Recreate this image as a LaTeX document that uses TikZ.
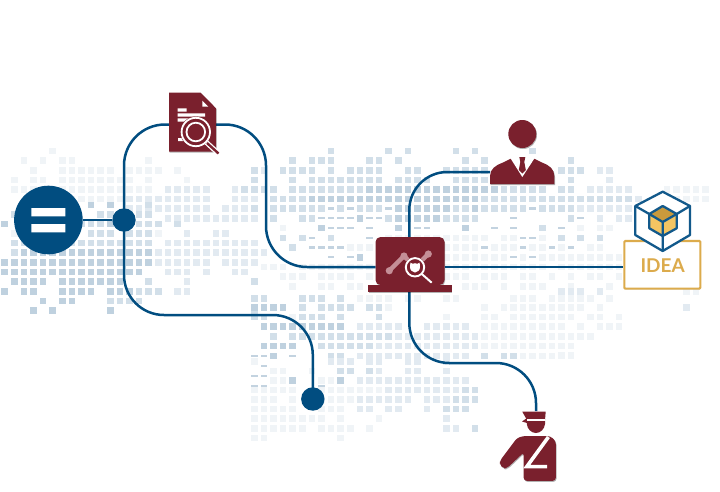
\documentclass[tikz,border=0pt]{standalone}
\usepackage{fontspec}
\setmainfont{Lato}
\usetikzlibrary{backgrounds,shadows}
\definecolor{wirec}{HTML}{014D80}
\definecolor{wine}{HTML}{7A202D}
\definecolor{palewine}{HTML}{C48F97}
\definecolor{gold}{HTML}{DCAB4C}
\definecolor{goldlight}{HTML}{F4C562}
\definecolor{golddark}{HTML}{C99A3C}
\definecolor{cubeblue}{HTML}{12598B}
\definecolor{cell1}{HTML}{F0F4F7}
\definecolor{cell2}{HTML}{E2EAF1}
\definecolor{cell3}{HTML}{D2DFE9}
\definecolor{cell4}{HTML}{BFD1DF}
\definecolor{cella}{HTML}{C3D3E0}
\newcount\cellx
\newcommand{\gridcell}[1]{%
  \if#1.\else
    \pgfmathsetmacro{\cellcx}{4.7+9.6*\the\cellx}%
    \if#1a%
      \fill[cella] (\cellcx-3.3,\gridy-1.2) rectangle (\cellcx+3.3,\gridy+1.2);%
    \else
      \fill[cell#1] (\cellcx-3.3,\gridy-3.3) rectangle (\cellcx+3.3,\gridy+3.3);%
    \fi
  \fi}
\def\gridscan#1{\ifx#1\relax\else\gridcell{#1}\advance\cellx by 1 \expandafter\gridscan\fi}
\newcommand{\gridrow}[3]{\def\gridy{#1}\cellx=#2 \gridscan#3\relax}
\tikzset{
  wire/.style={draw=wirec,line width=2.5pt},
  iconshadow/.style={drop shadow={shadow xshift=.7pt,shadow yshift=-1pt,opacity=.3,fill=black}},
  hole/.style={minimum width=#1,inner sep=0pt,outer sep=0pt},
  cubeline/.style={draw=cubeblue,line width=2.3pt,line join=round},
}
\begin{document}
\begin{tikzpicture}[x=1pt,y=-1pt]
\useasboundingbox (0,0) rectangle (720,491);
% --- named anchors and icons on the main layer ---
\node[circle,fill=wirec,minimum size=68.6pt,inner sep=0pt] (eq) at (48.4,220) {};
\fill[white] (31.3,208) rectangle (65.3,216.3) (31.3,224) rectangle (65.3,232.3);
\node[circle,fill=wirec,minimum size=23.4pt,inner sep=0pt] (hub) at (124,220) {};
\node[circle,fill=wirec,minimum size=23.4pt,inner sep=0pt] (sink) at (312.8,399) {};
\coordinate (lapL) at (375.5,267);
\coordinate (lapR) at (444.5,267);
\coordinate (lapT) at (409.3,240);
\coordinate (lapB) at (409.3,290);
\coordinate (wa) at (266,124.5);
\coordinate (wb) at (266,267);
\coordinate (wc) at (124,315);
\coordinate (wd) at (312.8,315);
\coordinate (we) at (409.3,172);
\coordinate (wf) at (409.3,363);
\coordinate (wg) at (536,363);
% document
\node[hole=47pt,minimum height=54pt] (doc) at (192.5,124.5) {};
\fill[wine,iconshadow] (169,92.5) -- (200.5,92.5) -- (216,108.3) -- (216,151.7) -- (169,151.7) -- cycle;
\fill[white] (202.3,100.7) -- (202.3,106.7) -- (208.3,106.7) -- cycle;
\fill[white] (177.7,108.3) rectangle (186.7,111.6) (177.7,113.4) rectangle (205,116.6) (177.7,118.4) rectangle (197,121.6) (178,138) rectangle (183,141);
\fill[wine] (195.8,132) circle (15.5);
\draw[white,line width=1.8pt] (195.8,132) circle (14.2) (195.8,132) circle (9.3);
\draw[white,line width=5pt] (206.5,142.5) -- (219.5,154.5);
\draw[wine,line width=2.4pt] (207,143) -- (218.5,153.5);
% laptop
\node[fill=wine,rounded corners=5pt,minimum width=69pt,minimum height=48pt,inner sep=0pt,iconshadow] (lap) at (410,261) {};
\fill[wine,iconshadow] (368.3,285) rectangle (451.7,292.3);
\draw[palewine,line width=4.4pt,line cap=round] (389.3,270.7) -- (404,256) -- (415,267) -- (428.3,254);
\fill[palewine] (404,256) circle (3.6) (428.3,254) circle (3.6) (389.3,270.7) circle (3.6);
\fill[wine] (415,267.3) circle (10.5);
\draw[white,line width=1.9pt] (415,267.3) circle (9.2);
\fill[white] (410.4,262.6) -- (412.6,263.8) -- (415,263.2) -- (417.4,263.8) -- (419.6,262.6) -- (420,267) .. controls (420,270.5) and (417.5,272) .. (415,272.5) .. controls (412.5,272) and (410,270.5) .. (410,267) -- cycle;
\draw[white,line width=2pt] (421.8,274) -- (431.7,282.7);
% person
\node[circle,fill=wine,minimum size=28pt,inner sep=0pt,iconshadow] (head) at (522.3,134) {};
\node[hole=64pt,minimum height=26pt] (person) at (522.2,172) {};
\fill[wine,iconshadow] (490,184) -- (490,176) .. controls (490,169) and (496,165) .. (503,162.5) -- (510,159) .. controls (518,156.5) and (527,156.5) .. (535,159) -- (542,162.5) .. controls (549,165) and (554.3,169) .. (554.3,176) -- (554.3,184) -- cycle;
\fill[white] (510,157.5) .. controls (518,156) and (527,156) .. (535,157.5) -- (522.3,177) -- cycle;
\fill[wine] (519.3,157) -- (525.3,157) -- (524.3,162) -- (525.8,170) -- (522.3,173.5) -- (518.8,170) -- (520.3,162) -- cycle;
% idea box
\node[draw=gold,fill=white,line width=2.1pt,rounded corners=1pt,minimum width=76pt,minimum height=47.7pt,inner sep=0pt,drop shadow={shadow xshift=.6pt,shadow yshift=-.8pt,opacity=.2,fill=black}] (idea) at (662.3,264.8) {};
\node[text=gold,font=\bfseries\fontsize{19}{20}\selectfont,inner sep=0pt,anchor=center] (idealabel) at (662.7,265.6) {IDEA};
% cube
\fill[white,cubeline] (662.7,191.7) -- (690,206) -- (690,235) -- (662.7,251) -- (635.3,235) -- (635.3,206) -- cycle;
\draw[cubeline] (635.3,206) -- (649.3,214) (690,206) -- (676.7,214) (662.7,236) -- (662.7,251);
\fill[goldlight] (662.7,222) -- (676.7,214) -- (676.7,228.3) -- (662.7,236) -- (649.3,228.3) -- (649.3,214) -- cycle;
\fill[golddark] (662.7,206) -- (676.7,214) -- (662.7,222) -- (649.3,214) -- cycle;
\draw[cubeline] (662.7,206) -- (676.7,214) -- (676.7,228.3) -- (662.7,236) -- (649.3,228.3) -- (649.3,214) -- cycle;
\draw[cubeline] (649.3,214) -- (662.7,222) -- (676.7,214) (662.7,222) -- (662.7,236);
% officer
\node[hole=36pt,minimum height=70pt] (officer) at (536,446) {};
\fill[wine] (522.3,411.7) -- (545.7,411.7) -- (545,420) -- (527,420) -- cycle;
\fill[wine] (522,421.5) -- (527,418) -- (527,423) -- cycle;
\fill[wine] (526.8,420.8) -- (545,420.8) -- (545,424) .. controls (544.5,429) and (540.5,433) .. (535.9,433) .. controls (531.3,433) and (527.3,429) .. (526.8,424) -- cycle;
\fill[white] (526.8,419) rectangle (545.2,420.6);
\fill[wine,iconshadow,rounded corners=3pt] (523.5,436) -- (550,436) -- (555.8,441) -- (555.8,480.8) -- (523.7,480.8) -- (523.7,452.5) -- (507,468.2) -- (503.2,468.3) -- (499.8,464.5) -- (499.8,461) -- (517,438) -- cycle;
\draw[white,line width=3.6pt,miter limit=10] (548.4,437) -- (526.8,466.6) -- (547.2,466.6);
% --- map and connectors behind ---
\begin{pgfonlayer}{background}
\fill[white] (0,0) rectangle (720,491);
% top band
\gridrow{151}{0}{.....1.... .......... .......... ....3..... 3.3....3.3 .....3....}
\gridrow{160.6}{0}{..1.1.11.. .....1.... .......... 3.333...33 .3......3. 3........3}
\gridrow{170.2}{0}{...1..1111 11.1111.1. ......32.3 333.3.3333 ..33..3333 3.......33 3.22......}
\gridrow{179.8}{0}{.1.11.1111 1111.1...1 ......3... 3.33333333 .3333..333 333333...3 ...2......}
\gridrow{189.4}{0}{.1111.1111 111111.222 22..23333. 3333333344 4444444444 4433333.33 .22222...1 1111}
\gridrow{199}{0}{......1111 1112222222 22..222.33 3344444444 4444444444 3333333333 3333332..1 1111}
\gridrow{208.6}{0}{.......... ...2222222 22.2223.33 3333a3a333 a444444334 33333a3333 2222222...}
\gridrow{218.2}{0}{.......... .......222 2222222.3. .33aaaa4aa 3444443333 ...a.....3 a.2.2222..}
\gridrow{227.8}{20}{.........1 ...4aaa.a. .4.aa...4. .a.a..3.a. 1.11......}
\gridrow{237.8}{29}{3 .3a.3...a. 1111111111 1.11aa1.3. 3.3.......}
\gridrow{247.6}{30}{3.aaaa1111 1111111111 a111a11a1a .11.......}
\gridrow{257.2}{30}{....a.a4.1 1111111111 111a1a1111 11111.....}
\gridrow{267}{27}{111 .111111111 1111.11111 1111111.11 11111}
\gridrow{276.6}{29}{1 11.1111.11 .111.1111. 111.11.1.1 .11.1}
\gridrow{286.2}{30}{1..11.11.. 1.11.1..11 1.1.111..1 ...1}
% left block
\gridrow{205}{0}{.........4 .4...3}
\gridrow{214.5}{0}{.3........ 33..33}
\gridrow{224}{0}{4.......33 34.3333.3.}
\gridrow{233.5}{0}{.1.......3 33.3331..2 ..22}
\gridrow{243}{0}{.333333333 333333.222 2222222}
\gridrow{252.7}{0}{.344444444 4444442222 22222222}
\gridrow{262.3}{0}{4444444444 4444442222 22.2222}
\gridrow{272}{0}{4444444444 44444..222 .2..22}
\gridrow{281.6}{0}{.4444.4444 444..3...2 ......3}
\gridrow{291.3}{0}{4.44..4444 .444333.22}
\gridrow{301}{0}{....4.44.. .3333}
\gridrow{310.6}{0}{...4.4.... .4........ ......3}
% lower block
\gridrow{298.3}{26}{33...333.3 .1111.11..11.....111.1111}
\gridrow{307.7}{26}{4444.3.3333.33 1.........1.111111111}
\gridrow{317}{26}{33..1333.3...3 ......1...11.111111}
\gridrow{326.7}{27}{444444444.22222..22222.111111111}
\gridrow{336.3}{28}{3.3333333 3333222222222 111111111}
\gridrow{346}{27}{4444..33333322222222222 111111111}
\gridrow{356}{26}{aa4.a...33.222222222222.3.33111111}
\gridrow{361.7}{26}{1.......222.22..22..2}
\gridrow{366}{27}{a}
\gridrow{371}{28}{11..1..33.32..22..2}
\gridrow{376}{26}{aa}
\gridrow{380.7}{28}{114..114.222222222222}
\gridrow{385.7}{26}{aa.....a}
\gridrow{390}{26}{11111.11111 1112222222233}
\gridrow{399.3}{26}{111.1..1111222222.222333}
\gridrow{409}{26}{11111..111.22.22..2.333}
\gridrow{418.7}{26}{11111111.1...1......2}
\gridrow{428.3}{26}{111111.1111.1.......22.3}
\gridrow{438}{26}{11.......1}
% right lower
\gridrow{291.7}{58}{222.2........11}
\gridrow{298.3}{61}{1.1}
\gridrow{307.7}{58}{1...1........2}
\gridrow{317}{58}{11.11.1}
\gridrow{326.7}{58}{1.1.111}
\gridrow{336.3}{58}{1111}
\gridrow{346}{58}{11}
\gridrow{355.5}{58}{11}
% connectors
\draw[wire] (eq) -- (hub);
\draw[wire,rounded corners=41pt] (hub.center) |- (doc.west);
\draw[wire,rounded corners=41pt] (doc.east) -- (wa) -- (wb) -- (lapL);
\draw[wire,rounded corners=40pt] (hub.center) -- (wc) -- (wd) -- (sink.center);
\draw[wire,rounded corners=38pt] (lapT) -- (we) -- (person.west |- we);
\draw[wire] (lapR) -- (idea.west |- lapR);
\draw[wire,rounded corners=40pt] (lapB) -- (wf) -- (wg) -- (officer.north);
\end{pgfonlayer}
\end{tikzpicture}
\end{document}
